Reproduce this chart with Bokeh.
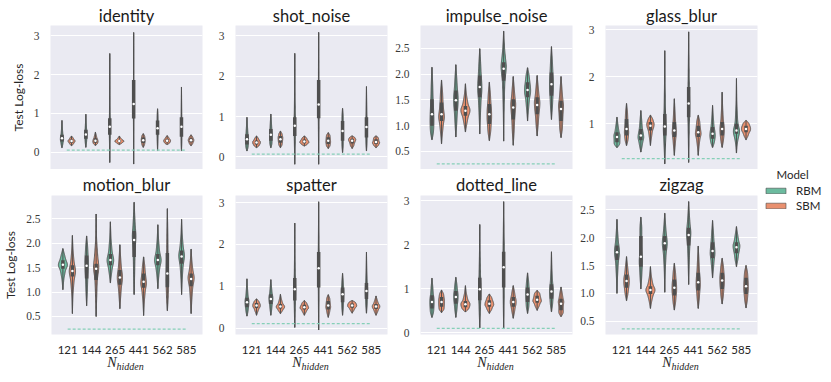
import numpy as np
from bokeh.plotting import figure
from bokeh.models import (Range1d, FixedTicker, NumeralTickFormatter, Label,
                          Legend, LegendItem)
from bokeh.layouts import row, column
from bokeh.embed import file_html
from bokeh.resources import INLINE

categories = ["121", "144", "265", "441", "562", "585"]
hues = ["RBM", "SBM"]
titles = ["identity", "shot_noise", "impulse_noise", "glass_blur",
          "motion_blur", "spatter", "dotted_line", "zigzag"]

# per N_hidden: [low, q1, median, q3, high] of Test Log-loss
identity_rbm = [[0.12, 0.28, 0.36, 0.45, 0.82], [0.13, 0.35, 0.46, 0.58, 0.98], [-0.26, 0.45, 0.66, 0.88, 2.54],
                [-0.30, 0.87, 1.24, 1.86, 3.08], [0.04, 0.45, 0.62, 0.82, 1.12], [0.04, 0.40, 0.66, 0.90, 1.68]]
identity_sbm = [[0.17, 0.25, 0.29, 0.33, 0.42], [0.18, 0.25, 0.30, 0.36, 0.52], [0.20, 0.26, 0.29, 0.32, 0.42],
                [0.13, 0.24, 0.31, 0.38, 0.48], [0.20, 0.26, 0.30, 0.34, 0.43], [0.17, 0.26, 0.31, 0.36, 0.45]]
shot_rbm = [[0.15, 0.31, 0.44, 0.56, 0.98], [0.23, 0.40, 0.55, 0.69, 1.06], [-0.18, 0.52, 0.77, 0.98, 2.56],
            [-0.18, 0.96, 1.30, 1.90, 3.08], [0.11, 0.40, 0.64, 0.89, 1.20], [0.15, 0.48, 0.74, 0.98, 1.74]]
shot_sbm = [[0.23, 0.31, 0.36, 0.41, 0.52], [0.23, 0.35, 0.44, 0.52, 0.64], [0.27, 0.34, 0.38, 0.43, 0.52],
            [0.21, 0.32, 0.40, 0.49, 0.60], [0.21, 0.33, 0.40, 0.45, 0.52], [0.23, 0.32, 0.37, 0.44, 0.52]]
impulse_rbm = [[0.73, 1.00, 1.22, 1.51, 2.13], [0.78, 1.29, 1.49, 1.68, 2.18], [0.84, 1.55, 1.75, 1.97, 2.49],
               [0.70, 1.87, 2.10, 2.23, 2.83], [1.09, 1.55, 1.69, 1.84, 2.12], [1.12, 1.58, 1.80, 2.03, 2.53]]
impulse_sbm = [[0.65, 1.09, 1.22, 1.45, 1.88], [0.88, 1.19, 1.29, 1.38, 1.81], [0.71, 1.03, 1.22, 1.42, 1.84],
               [0.62, 1.12, 1.35, 1.51, 1.95], [0.80, 1.22, 1.40, 1.55, 1.97], [0.77, 1.09, 1.32, 1.48, 1.95]]
glass_rbm = [[0.50, 0.61, 0.72, 0.82, 1.14], [0.40, 0.65, 0.75, 0.89, 1.28], [0.15, 0.75, 0.94, 1.21, 2.55],
             [0.18, 1.14, 1.43, 1.78, 2.95], [0.50, 0.68, 0.79, 0.93, 1.39], [0.38, 0.79, 0.86, 1.00, 1.96]]
glass_sbm = [[0.54, 0.75, 0.89, 1.10, 1.43], [0.54, 0.86, 0.96, 1.04, 1.18], [0.33, 0.72, 0.86, 1.04, 1.53],
             [0.33, 0.72, 0.82, 0.96, 1.18], [0.50, 0.75, 0.89, 1.04, 1.67], [0.66, 0.82, 0.89, 0.96, 1.07]]
motion_rbm = [[1.05, 1.48, 1.56, 1.65, 1.89], [0.72, 1.28, 1.54, 1.75, 2.15], [1.19, 1.55, 1.66, 1.78, 2.44],
              [0.95, 1.72, 2.07, 2.25, 2.84], [1.07, 1.55, 1.66, 1.78, 2.38], [0.95, 1.58, 1.73, 1.85, 2.49]]
motion_sbm = [[0.56, 1.32, 1.43, 1.55, 2.16], [0.50, 1.25, 1.48, 1.58, 2.60], [0.66, 1.15, 1.30, 1.45, 1.97],
              [0.52, 1.09, 1.21, 1.38, 1.72], [0.62, 1.10, 1.38, 1.80, 2.71], [0.56, 1.12, 1.27, 1.38, 1.88]]
spatter_rbm = [[0.29, 0.50, 0.62, 0.73, 1.18], [0.31, 0.58, 0.70, 0.81, 1.16], [0.02, 0.66, 0.93, 1.20, 2.51],
               [-0.04, 0.97, 1.43, 1.82, 3.02], [0.31, 0.62, 0.81, 0.97, 1.31], [0.36, 0.70, 0.89, 1.08, 1.82]]
spatter_sbm = [[0.31, 0.48, 0.54, 0.60, 0.70], [0.35, 0.47, 0.52, 0.58, 0.81], [0.31, 0.45, 0.50, 0.56, 0.66],
               [0.26, 0.45, 0.54, 0.65, 0.80], [0.36, 0.49, 0.54, 0.59, 0.66], [0.31, 0.46, 0.52, 0.58, 0.77]]
dotted_rbm = [[0.35, 0.55, 0.70, 0.85, 1.24], [0.35, 0.66, 0.81, 0.95, 1.26], [0.11, 0.74, 0.99, 1.25, 2.46],
              [0.09, 1.03, 1.49, 1.84, 2.98], [0.44, 0.70, 0.87, 1.03, 1.36], [0.48, 0.77, 0.94, 1.10, 1.84]]
dotted_sbm = [[0.46, 0.59, 0.70, 0.81, 0.97], [0.48, 0.58, 0.65, 0.72, 1.07], [0.44, 0.59, 0.66, 0.74, 0.88],
              [0.33, 0.59, 0.70, 0.81, 1.07], [0.51, 0.68, 0.75, 0.84, 0.96], [0.37, 0.51, 0.66, 0.77, 1.04]]
zigzag_rbm = [[1.00, 1.60, 1.74, 1.86, 2.33], [1.08, 1.48, 1.66, 2.03, 2.37], [1.02, 1.77, 1.90, 2.03, 2.44],
              [1.16, 1.86, 2.05, 2.18, 2.65], [1.28, 1.63, 1.76, 1.92, 2.31], [1.48, 1.72, 1.83, 1.92, 2.20]]
zigzag_sbm = [[0.87, 1.10, 1.22, 1.34, 1.66], [0.73, 0.99, 1.06, 1.13, 1.48], [0.70, 0.96, 1.10, 1.25, 1.54],
              [0.73, 1.05, 1.20, 1.37, 1.85], [0.81, 1.08, 1.23, 1.37, 1.63], [0.74, 0.99, 1.13, 1.28, 1.50]]

baselines = [0.06, 0.07, 0.26, 0.26, 0.24, 0.11, 0.10, 0.36]
y_limits = [(-0.44, 3.26), (-0.31, 3.25), (0.15, 2.94), (0.03, 3.085),
            (0.13, 2.98), (-0.15, 3.17), (-0.04, 3.12), (0.26, 2.76)]
y_ticks = [[0, 1, 2, 3], [0, 1, 2, 3], [0.5, 1.0, 1.5, 2.0, 2.5], [1, 2, 3],
           [0.5, 1.0, 1.5, 2.0, 2.5], [0, 1, 2, 3], [0, 1, 2, 3], [0.5, 1.0, 1.5, 2.0, 2.5]]
y_formats = ["0", "0", "0.0", "0", "0.0", "0", "0", "0.0"]

panels = [(identity_rbm, identity_sbm), (shot_rbm, shot_sbm), (impulse_rbm, impulse_sbm),
          (glass_rbm, glass_sbm), (motion_rbm, motion_sbm), (spatter_rbm, spatter_sbm),
          (dotted_rbm, dotted_sbm), (zigzag_rbm, zigzag_sbm)]

COLORS = {"RBM": "#6cbb9f", "SBM": "#e9906f"}
GRAY = "#4f4f4f"
BG = "#EAEAF2"
DASH = "#86d0b8"
TXT = "#262626"


def density_profile(s):
    lo, q1, md, q3, hi = s
    d = [0.25 / max(q1 - lo, 1e-3), 0.25 / max(md - q1, 1e-3),
         0.25 / max(q3 - md, 1e-3), 0.25 / max(hi - q3, 1e-3)]
    yn = [lo, (lo + q1) / 2, q1, (q1 + md) / 2, md, (md + q3) / 2, q3, (q3 + hi) / 2, hi]
    wn = [0, d[0], (d[0] + d[1]) / 2, d[1], (d[1] + d[2]) / 2, d[2], (d[2] + d[3]) / 2, d[3], 0]
    yy = np.linspace(lo, hi, 121)
    ww = np.interp(yy, yn, wn)
    k = np.exp(-0.5 * (np.arange(-12, 13) / 5.0) ** 2)
    k /= k.sum()
    ww = np.convolve(np.pad(ww, 12), k, mode="same")[12:-12]
    return yy, ww


FRAME_W = 152
X_RANGE = (-0.68, 5.68)
ncat = len(categories)
LEFTS = [50, 30, 30, 30]
RIGHT = 3
COL_W = [l + FRAME_W + RIGHT for l in LEFTS]
GRID_W = sum(COL_W)
FRAME_CENTERS = [sum(COL_W[:j]) + LEFTS[j] + FRAME_W / 2 for j in range(4)]


def make_panel(k, frame_h, bottom, bottom_row, ylabel):
    rbm, sbm = panels[k]
    left = LEFTS[k % 4]
    p = figure(width=left + FRAME_W + RIGHT, height=frame_h + bottom,
               output_backend="svg", toolbar_location=None, title=None,
               x_range=Range1d(*X_RANGE), y_range=Range1d(*y_limits[k]),
               min_border_left=left, min_border_right=RIGHT, min_border_top=0,
               min_border_bottom=bottom, background_fill_color=BG,
               border_fill_color="white", outline_line_color=None)
    p.xgrid.visible = False
    p.ygrid.grid_line_color = "white"
    p.ygrid.grid_line_width = 1.1

    ya = p.yaxis[0]
    ya.ticker = FixedTicker(ticks=y_ticks[k])
    ya.formatter = NumeralTickFormatter(format=y_formats[k])
    ya.major_tick_line_color = None
    ya.minor_tick_line_color = None
    ya.axis_line_color = None
    ya.major_label_standoff = 5
    ya.major_label_text_font = "Liberation Serif"
    ya.major_label_text_font_size = "11.5px"
    ya.major_label_text_color = "#3a3a3a"
    if ylabel:
        ya.axis_label = "Test Log-loss"
        ya.axis_label_text_font = "Lato"
        ya.axis_label_text_font_size = "12px"
        ya.axis_label_text_font_style = "normal"
        ya.axis_label_text_color = TXT
        ya.axis_label_standoff = 5

    xa = p.xaxis[0]
    if bottom_row:
        xa.ticker = FixedTicker(ticks=list(range(ncat)))
        xa.major_label_overrides = {i: c for i, c in enumerate(categories)}
        xa.major_tick_line_color = None
        xa.minor_tick_line_color = None
        xa.axis_line_color = None
        xa.major_label_standoff = 5
        xa.major_label_text_font = "Lato"
        xa.major_label_text_font_size = "11.5px"
        xa.major_label_text_color = TXT
    else:
        xa.visible = False

    profiles = []
    for h, data in zip(hues, (rbm, sbm)):
        for i, s in enumerate(data):
            yy, ww = density_profile(s)
            profiles.append((h, i, s, yy, ww))
    wmax = max(pr[4].max() for pr in profiles)
    scale = 0.19 / wmax
    xs, ys, fills = [], [], []
    wx, wy0, wy1, by0, by1, my = [], [], [], [], [], []
    for h, i, s, yy, ww in profiles:
        c = i + (-0.2 if h == "RBM" else 0.2)
        w = ww * scale
        xs.append(list(np.concatenate([c - w, (c + w)[::-1]])))
        ys.append(list(np.concatenate([yy, yy[::-1]])))
        fills.append(COLORS[h])
        wx.append(c); wy0.append(s[0]); wy1.append(s[4])
        by0.append(s[1]); by1.append(s[3]); my.append(s[2])
    p.patches(xs=xs, ys=ys, fill_color=fills, line_color=GRAY, line_width=1)
    p.segment(x0=wx, y0=wy0, x1=wx, y1=wy1, line_color=GRAY, line_width=1)
    p.segment(x0=wx, y0=by0, x1=wx, y1=by1, line_color=GRAY, line_width=3.5)
    p.scatter(x=wx, y=my, size=2.5, fill_color="white", line_color=None)

    b = baselines[k]
    p.line(x=[0, ncat - 1], y=[b, b], line_color=DASH, line_width=1.2, line_dash="3 2")
    return p


def strip(width, height):
    s = figure(width=width, height=height, output_backend="svg", toolbar_location=None,
               title=None, x_range=Range1d(0, width), y_range=Range1d(0, height),
               min_border=0, outline_line_color=None, background_fill_color="white",
               border_fill_color="white")
    s.axis.visible = False
    s.grid.visible = False
    return s


TOP_STRIP_H, MID_STRIP_H, BOT_STRIP_H = 25, 26, 18
top_strip = strip(GRID_W, TOP_STRIP_H)
mid_strip = strip(GRID_W, MID_STRIP_H)
for j in range(4):
    top_strip.add_layout(Label(x=FRAME_CENTERS[j], y=9.5, text=titles[j], text_align="center",
                               text_baseline="middle", text_font="Lato",
                               text_font_size="16.5px", text_color="#1a1a1a"))
    mid_strip.add_layout(Label(x=FRAME_CENTERS[j], y=11, text=titles[4 + j], text_align="center",
                               text_baseline="middle", text_font="Lato",
                               text_font_size="16.5px", text_color="#1a1a1a"))

bot_strip = strip(GRID_W, BOT_STRIP_H)
for j in range(4):
    bot_strip.add_layout(Label(x=FRAME_CENTERS[j] - 10, y=12, text="N", text_align="right",
                               text_baseline="middle", text_font="Liberation Serif",
                               text_font_style="italic", text_font_size="14px", text_color=TXT))
    bot_strip.add_layout(Label(x=FRAME_CENTERS[j] - 10, y=8.5, text="hidden", text_align="left",
                               text_baseline="middle", text_font="Liberation Serif",
                               text_font_style="italic", text_font_size="10px", text_color=TXT))

figs = []
for k in range(8):
    bottom_row = k >= 4
    if bottom_row:
        figs.append(make_panel(k, 143, 18, True, k % 4 == 0))
    else:
        figs.append(make_panel(k, 144, 0, False, k % 4 == 0))

total_h = TOP_STRIP_H + 144 + MID_STRIP_H + 143 + 18 + BOT_STRIP_H
lw = 63
lf = strip(lw, total_h)
items = []
for h in hues:
    r = lf.patches(xs=[[]], ys=[[]], fill_color=COLORS[h], line_color=GRAY, line_width=0.6)
    items.append(LegendItem(label=h, renderers=[r]))
leg = Legend(items=items, location=(3, 162), glyph_width=25, glyph_height=7, label_height=13,
             spacing=2, padding=0, margin=0, border_line_color=None, background_fill_alpha=0,
             label_standoff=8, label_text_font="Lato", label_text_font_size="11.5px",
             label_text_color=TXT)
lf.add_layout(leg)
lf.add_layout(Label(x=32, y=total_h - 174, text="Model", text_align="center", text_baseline="middle",
                    text_font="Lato", text_font_size="11.5px", text_color=TXT))

left_block = column(top_strip, row(*figs[:4]), mid_strip, row(*figs[4:]), bot_strip)
layout = row(left_block, lf)
open("out.html", "w").write(file_html(layout, INLINE))
